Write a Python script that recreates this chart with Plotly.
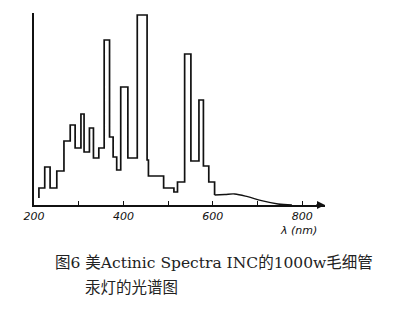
import plotly.graph_objects as go

# Step part of the spectrum: left edge of each band (nm) and relative intensity
step_wavelength = [211, 211, 224, 236, 251, 267, 281, 292, 305, 312, 324, 333, 345,
                   357, 369, 377, 385, 394, 410, 431, 453, 456, 490, 513, 521,
                   537, 551, 569, 579, 591, 604]
step_intensity = [7, 17, 38, 17, 34, 64, 80, 57, 91, 53, 77, 47, 57,
                  165, 68, 48, 35, 118, 47, 190, 45, 29, 17, 13, 23,
                  151, 44, 105, 39, 23, 10]

# Continuous tail of the spectrum
tail_wavelength = [604, 627, 649, 678, 709, 746, 777]
tail_intensity = [10, 10.5, 11, 8.3, 4.3, 1, 0]

tick_values = [200, 300, 400, 500, 600, 700, 800]
tick_labels = ["200", "", "400", "", "600", "", "800"]

caption_line1 = "图6 美Actinic Spectra INC的1000w毛细管"
caption_line2 = "汞灯的光谱图"
x_title = "λ (nm)"

L, R, T, B = 34, 325, 13, 205
W, H = 416, 311

def px(xp):
    return (xp - L) / (R - L)

def py(yp):
    return (B - yp) / (B - T)

fig = go.Figure()
fig.add_trace(go.Scatter(x=step_wavelength, y=step_intensity, mode="lines",
                         line=dict(color="#111", width=1.7, shape="hv"),
                         hoverinfo="skip", showlegend=False))
fig.add_trace(go.Scatter(x=tail_wavelength, y=tail_intensity, mode="lines",
                         line=dict(color="#111", width=1.3, shape="spline"),
                         hoverinfo="skip", showlegend=False))

fig.update_layout(
    width=W, height=H,
    margin=dict(l=L, r=W - R, t=T, b=H - B, pad=0),
    paper_bgcolor="white", plot_bgcolor="white",
    xaxis=dict(range=[200, 851], showgrid=False, zeroline=False,
               showline=True, linecolor="#111", linewidth=1.7,
               tickmode="array", tickvals=tick_values, ticktext=tick_labels,
               ticks="inside", ticklen=4, tickcolor="#111", tickwidth=1,
               tickfont=dict(family="DejaVu Sans", size=11, color="#111", style="italic")),
    yaxis=dict(range=[0, 192], showgrid=False, zeroline=False,
               showline=True, linecolor="#111", linewidth=1.7,
               showticklabels=False, ticks=""),
    font=dict(family="DejaVu Serif, Noto Sans CJK SC", color="#111"),
)

fig.add_annotation(x=851, y=0, ax=828, ay=0, xref="x", yref="y", axref="x", ayref="y",
                   text="", showarrow=True, arrowhead=2, arrowsize=1, arrowwidth=1.6,
                   arrowcolor="#111")

fig.add_annotation(x=px(298), y=py(230), xref="paper", yref="paper",
                   text=x_title, showarrow=False, xanchor="center", yanchor="middle",
                   font=dict(family="DejaVu Sans", size=11, style="italic", color="#111"))
fig.add_annotation(x=px(53), y=py(263), xref="paper", yref="paper",
                   text=caption_line1, showarrow=False, xanchor="left", yanchor="middle",
                   font=dict(family="DejaVu Serif, Noto Sans CJK SC", size=15.5, color="#222"))
fig.add_annotation(x=px(83), y=py(288), xref="paper", yref="paper",
                   text=caption_line2, showarrow=False, xanchor="left", yanchor="middle",
                   font=dict(family="DejaVu Serif, Noto Sans CJK SC", size=15.5, color="#222"))

fig.write_html("out.html")
